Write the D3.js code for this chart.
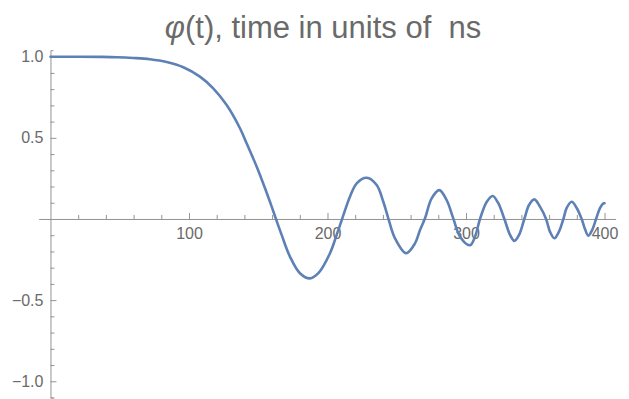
<!DOCTYPE html>
<html>
<head>
<meta charset="utf-8">
<script src="https://cdn.jsdelivr.net/npm/d3@7"></script>
<style>
  html, body { margin: 0; padding: 0; background: #fff; }
  svg { display: block; }
</style>
</head>
<body>
<script>
// ---- data ----
const tValues = [0, 20, 36, 48, 59.8, 71.8, 83.9, 95.9, 107.9, 117.5, 127.2, 136.8, 141.6, 148.9, 154.9, 159.7, 162.8,
  166.9, 172.9, 180.1, 187.3, 193.4, 201.8, 206.6, 210.7, 216.2, 221.1, 228.3, 235.5, 240.3, 243.9,
  248.7, 256.7, 263.2, 266.8, 270.4, 275.2, 280.7, 286, 290.8, 295.7, 302.9, 306.5, 310.1, 315,
  319.3, 323.3, 327.7, 331.8, 334.9, 338.3, 342.1, 345.5, 349.3, 353.4, 357.8, 360.6, 363.8, 367.1,
  370.3, 372.7, 376.3, 379.9, 383.5, 385.9, 388.3, 391.2, 393.9, 396.8, 399.2, 400];
const phiValues = [1.0, 1.0, 0.999, 0.997, 0.992, 0.984, 0.967, 0.935, 0.877, 0.805, 0.702, 0.559, 0.466, 0.322, 0.189, 0.076, 0,
  -0.098, -0.232, -0.334, -0.366, -0.334, -0.211, -0.098, 0.004, 0.137, 0.22, 0.254, 0.209, 0.106, 0.004,
  -0.119, -0.211, -0.15, -0.068, 0.004, 0.127, 0.178, 0.117, 0.004, -0.109, -0.162, -0.109, 0, 0.106,
  0.142, 0.097, 0, -0.098, -0.135, -0.098, 0, 0.086, 0.121, 0.076, 0, -0.078, -0.119, -0.078,
  0, 0.068, 0.106, 0.068, 0, -0.062, -0.103, -0.066, 0, 0.068, 0.096, 0.097];

const xMajorTicks = [100, 200, 300, 400];
const xTickLabels = ["100", "200", "300", "400"];
const xMinorTicks = [20, 40, 60, 80, 120, 140, 160, 180, 220, 240, 260, 280, 320, 340, 360, 380];
const yMajorTicks = [-1.0, -0.5, 0.5, 1.0];
const yTickLabels = ["\u22121.0", "\u22120.5", "0.5", "1.0"];
const yMinorTicks = [-1.1, -0.9, -0.8, -0.7, -0.6, -0.4, -0.3, -0.2, -0.1, 0.1, 0.2, 0.3, 0.4, 0.6, 0.7, 0.8, 0.9];
const titleSymbol = "\u03C6";
const titleRest = "(t), time in units of  ns";

// ---- layout ----
const W = 629, H = 399;
const axisColor = "#939393";
const labelColor = "#6a6a6a";
const curveColor = "#5E81B5";
const fontFamily = "'Liberation Sans', Arial, Helvetica, sans-serif";

const svg = d3.select("body").append("svg").attr("width", W).attr("height", H);

const x = d3.scaleLinear().domain([-8.5, 408]).range([38.7, 615.6]);
const y = d3.scaleLinear().domain([-1.1, 1.04]).range([397.5, 50.2]);

function styleAxis(g) {
  g.attr("font-family", fontFamily).attr("font-size", 16);
  g.selectAll("path.domain").attr("stroke", axisColor).attr("stroke-width", 1);
  g.selectAll(".tick line").attr("stroke", axisColor).attr("stroke-width", 1);
  g.selectAll(".tick text").attr("fill", labelColor);
}

// x axis (ticks point up, labels below)
const gx = svg.append("g").attr("transform", `translate(0,${y(0)})`);
gx.append("g").call(d3.axisBottom(x).tickValues(xMinorTicks).tickSizeInner(-4).tickSizeOuter(0).tickFormat(""))
  .call(g => g.select(".domain").remove()).call(styleAxis);
gx.append("g").call(d3.axisBottom(x).tickValues(xMajorTicks).tickSizeInner(-6).tickSizeOuter(0).tickPadding(9)
  .tickFormat((d, i) => xTickLabels[i])).call(styleAxis);

// y axis (ticks point right, labels left)
const gy = svg.append("g").attr("transform", `translate(${x(0)},0)`);
gy.append("g").call(d3.axisLeft(y).tickValues(yMinorTicks).tickSizeInner(-4).tickSizeOuter(0).tickFormat(""))
  .call(g => g.select(".domain").remove()).call(styleAxis);
gy.append("g").call(d3.axisLeft(y).tickValues(yMajorTicks).tickSizeInner(-6).tickSizeOuter(-3).tickPadding(7)
  .tickFormat((d, i) => yTickLabels[i])).call(styleAxis);

// curve
const pts = tValues.map((t, i) => [t, phiValues[i]]);
const line = d3.line().x(d => x(d[0])).y(d => y(d[1])).curve(d3.curveCatmullRom.alpha(0.5));
svg.append("path").datum(pts)
  .attr("d", line)
  .attr("fill", "none")
  .attr("stroke", curveColor)
  .attr("stroke-width", 2.6)
  .attr("stroke-linejoin", "round")
  .attr("stroke-linecap", "round");

// title
const title = svg.append("text")
  .attr("x", 323).attr("y", 38)
  .attr("text-anchor", "middle")
  .attr("font-family", fontFamily)
  .attr("font-size", 31)
  .attr("fill", labelColor)
  .style("white-space", "pre");
title.append("tspan").attr("font-style", "italic").text(titleSymbol);
title.append("tspan").text(titleRest);
</script>
</body>
</html>
